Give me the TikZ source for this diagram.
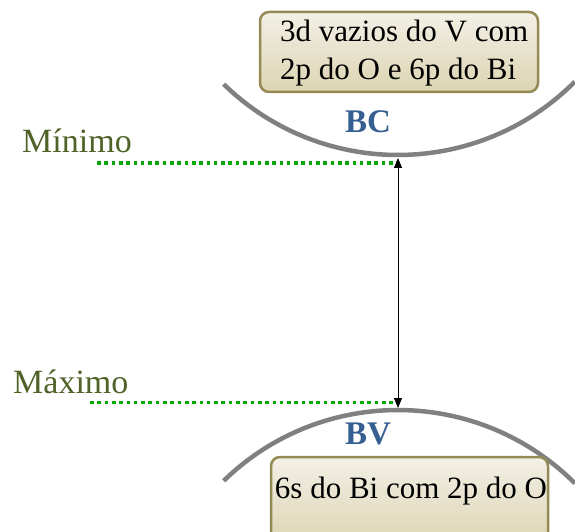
\documentclass[tikz,border=0pt]{standalone}
\usepackage{fontspec}
\setmainfont{Liberation Serif}
\usetikzlibrary{arrows.meta}
\definecolor{bandgray}{RGB}{128,128,128}
\definecolor{boxedge}{RGB}{148,138,84}
\definecolor{boxtop}{RGB}{243,240,230}
\definecolor{boxbottom}{RGB}{220,212,178}
\definecolor{bandblue}{RGB}{55,96,146}
\definecolor{levelolive}{RGB}{79,98,40}
\definecolor{levelgreen}{RGB}{0,170,0}
\tikzset{
  band/.style={draw=bandgray, line width=4.5pt},
  orbbox/.style={draw=boxedge, line width=2.5pt, rounded corners=9pt,
    top color=boxtop, bottom color=boxbottom, inner sep=0pt},
  orbtext/.style={inner sep=0pt, font=\fontsize{31}{37.7}\selectfont},
  bandlabel/.style={inner sep=0pt, text=bandblue, font=\fontsize{33}{38}\selectfont\bfseries},
  levellabel/.style={inner sep=0pt, text=levelolive, font=\fontsize{34}{40}\selectfont},
  levelline/.style={draw=levelgreen, line width=3.6pt, dash pattern=on 3.6pt off 3.7pt},
  gaparrow/.style={draw=black, line width=1pt, {Triangle[length=10pt,width=8pt]}-{Triangle[length=10pt,width=8pt]}}
}
\begin{document}
\begin{tikzpicture}[x=1pt, y=1pt]
  \useasboundingbox (0,0) rectangle (575,531);
  \clip (0,0) rectangle (575,531);

  % conduction band (upper) and valence band (lower)
  \draw[band] (398,626) ++(225.8:250) arc[start angle=225.8, end angle=315, radius=250];
  \draw[band] (398,-129) ++(134.2:250) arc[start angle=134.2, end angle=45, radius=250];

  % orbital boxes
  \node[orbbox, minimum width=278pt, minimum height=80pt] (cbbox) at (399,479) {};
  \node[orbtext, anchor=base west, align=left] (cbline1) at (280,489.3) {3d vazios do V com};
  \node[orbtext, anchor=base west, align=left] (cbline2) at (280,451.7) {2p do O e 6p do Bi};

  \node[orbbox, minimum width=277pt, minimum height=90pt] (vbbox) at (409.5,29) {};
  \node[orbtext, anchor=base] (vbtext) at (411,33) {6s do Bi com 2p do O};

  % band labels
  \node[bandlabel, anchor=base west] (bc) at (345,398) {BC};
  \node[bandlabel, anchor=base west] (bv) at (345,87) {BV};

  % band edges
  \node[levellabel, anchor=base west] (minlabel) at (22,378) {Mínimo};
  \node[levellabel, anchor=base west] (maxlabel) at (13,138) {Máximo};
  \coordinate (minstart) at (97,367.7);
  \coordinate (minend) at (398,367.7);
  \coordinate (maxstart) at (90,128.7);
  \coordinate (maxend) at (398,128.7);
  \draw[levelline] (minstart) -- (minend);
  \draw[levelline] (maxstart) -- (maxend);

  % band gap
  \coordinate (cbmin) at (398,373);
  \coordinate (vbmax) at (398,123);
  \draw[gaparrow] (cbmin) -- (vbmax);
\end{tikzpicture}
\end{document}
